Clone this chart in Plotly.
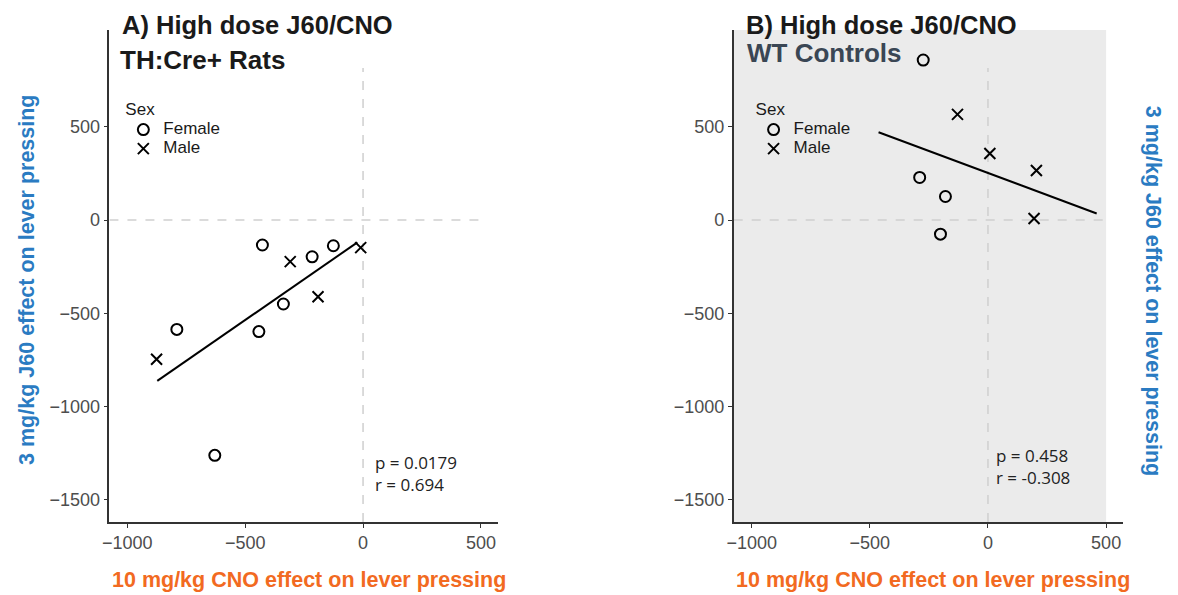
import numpy as np
import plotly.graph_objects as go

# ---- data ----
# Panel A: TH:Cre+ rats
a_female_x = [-427, -126, -216, -338, -442, -790, -629]
a_female_y = [-134, -138, -197, -450, -598, -586, -1261]
a_male_x = [-10, -309, -191, -876]
a_male_y = [-148, -223, -411, -746]
fit_range_a = [-873, -24]
stats_a = ["p = 0.0179", "r = 0.694"]

# Panel B: WT controls
b_female_x = [-274, -289, -180, -201]
b_female_y = [857, 228, 126, -76]
b_male_x = [-129, 8, 205, 195]
b_male_y = [566, 356, 265, 8]
fit_range_b = [-463, 460]
stats_b = ["p = 0.458", "r = -0.308"]

x_ticks = [-1000, -500, 0, 500]
y_ticks = [-1500, -1000, -500, 0, 500]

W, H = 1178, 595
XR = [-1076, 573]
YR = [-1618, 1018]
OX, OY = -12, -8  # page offset compensation

ORANGE = "#f26a21"
BLUE = "#2a7bc2"
DARK = "#1a1a1a"
SLATE = "#3a4654"
TICK = "#4d4d4d"
DASH = "#cfcfcf"


def px(x):
    return (x + OX) / W


def py(y):
    return 1 - (y + OY) / H


def fit_line(xs, ys, rng):
    k, b = np.polyfit(xs, ys, 1)
    xx = np.array(rng, dtype=float)
    return xx, k * xx + b


def lname(s):
    return "<span style='font-size:17px'>" + s + "</span>"


fig = go.Figure()

sym_f = dict(symbol="circle-open", size=11, color="black", line=dict(width=2, color="black"))
sym_m = dict(symbol="x-thin-open", size=11, color="black", line=dict(width=2, color="black"))

# Panel A
fig.add_trace(go.Scatter(x=a_female_x, y=a_female_y, mode="markers", name=lname("Female"),
                         marker=sym_f, xaxis="x", yaxis="y", legend="legend"))
fig.add_trace(go.Scatter(x=a_male_x, y=a_male_y, mode="markers", name=lname("Male"),
                         marker=sym_m, xaxis="x", yaxis="y", legend="legend"))
lx, ly = fit_line(a_female_x + a_male_x, a_female_y + a_male_y, fit_range_a)
fig.add_trace(go.Scatter(x=lx, y=ly, mode="lines", line=dict(color="black", width=2),
                         showlegend=False, xaxis="x", yaxis="y", hoverinfo="skip"))

# Panel B
fig.add_trace(go.Scatter(x=b_female_x, y=b_female_y, mode="markers", name=lname("Female"),
                         marker=sym_f, xaxis="x2", yaxis="y2", legend="legend2"))
fig.add_trace(go.Scatter(x=b_male_x, y=b_male_y, mode="markers", name=lname("Male"),
                         marker=sym_m, xaxis="x2", yaxis="y2", legend="legend2"))
lx, ly = fit_line(b_female_x + b_male_x, b_female_y + b_male_y, fit_range_b)
fig.add_trace(go.Scatter(x=lx, y=ly, mode="lines", line=dict(color="black", width=2),
                         showlegend=False, xaxis="x2", yaxis="y2", hoverinfo="skip"))

TF = "Liberation Sans, Arial"
axis_common = dict(
    showline=True, linecolor="#333333", linewidth=1.5, mirror=False,
    showgrid=False, zeroline=False, ticks="outside", ticklen=4, tickwidth=1,
    tickcolor="#333333", tickfont=dict(family=TF, size=18, color=TICK),
    fixedrange=True,
)

ydom = [py(522), py(30)]
leg_common = dict(xanchor="left", yanchor="top", bgcolor="rgba(0,0,0,0)", itemwidth=30,
                  title=dict(text="Sex", font=dict(family=TF, size=17, color=DARK)),
                  font=dict(family=TF, size=12, color=DARK))
fig.update_layout(
    width=W, height=H,
    margin=dict(l=0, r=0, t=0, b=0),
    paper_bgcolor="white", plot_bgcolor="rgba(0,0,0,0)",
    xaxis=dict(domain=[px(107), px(498)], range=XR, tickvals=x_ticks, anchor="y", **axis_common),
    yaxis=dict(domain=ydom, range=YR, tickvals=y_ticks, anchor="x", **axis_common),
    xaxis2=dict(domain=[px(735), px(1127)], range=XR, tickvals=x_ticks, anchor="y2", **axis_common),
    yaxis2=dict(domain=ydom, range=YR, tickvals=y_ticks, anchor="x2", **axis_common),
    legend=dict(x=px(121), y=py(93), **leg_common),
    legend2=dict(x=px(755), y=py(93), **leg_common),
    showlegend=True,
)

# Shapes: grey panel (B) and dashed reference lines
fig.add_shape(type="rect", xref="x2", yref="y2 domain", x0=XR[0], x1=500, y0=0, y1=1,
              fillcolor="#ebebeb", line=dict(width=0), layer="below")
for xa, ya in (("x", "y"), ("x2", "y2")):
    fig.add_shape(type="line", xref=xa, yref=ya, x0=0, x1=0, y0=YR[0], y1=815,
                  line=dict(color=DASH, width=1.5, dash="dash"), layer="below")
    fig.add_shape(type="line", xref=xa, yref=ya, x0=XR[0], x1=500, y0=0, y1=0,
                  line=dict(color=DASH, width=1.5, dash="dash"), layer="below")

ann = []


def add_text(text, x, y, size, color, family=TF, xanchor="left", textangle=0, align="left"):
    ann.append(dict(text=text, x=px(x), y=py(y), xref="paper", yref="paper",
                    xanchor=xanchor, yanchor="middle", align=align, showarrow=False,
                    textangle=textangle, font=dict(family=family, size=size, color=color)))


add_text("<b>A) High dose J60/CNO</b>", 118, 25, 25.5, DARK)
add_text("<b>TH:Cre+ Rats</b>", 116, 60, 26, DARK)
add_text("<b>B) High dose J60/CNO</b>", 745, 25, 25.5, DARK)
add_text("<b>WT Controls</b>", 746, 53, 26, SLATE)

xt = "<b>10 mg/kg CNO effect on lever pressing</b>"
yt = "<b>3 mg/kg J60 effect on lever pressing</b>"
add_text(xt, 308, 580, 21.5, ORANGE, xanchor="center", align="center")
add_text(xt, 935, 580, 21.5, ORANGE, xanchor="center", align="center")
add_text(yt, 24, 280, 21.5, BLUE, xanchor="center", textangle=-90, align="center")
add_text(yt, 1157, 291, 21.5, BLUE, xanchor="center", textangle=90, align="center")

SF = "Open Sans, Noto Sans"
add_text("<br>".join(stats_a), 372, 473, 17, "#222222", family=SF)
add_text("<br>".join(stats_b), 997, 466, 17, "#222222", family=SF)
fig.update_layout(annotations=ann)

fig.write_html("out.html")
